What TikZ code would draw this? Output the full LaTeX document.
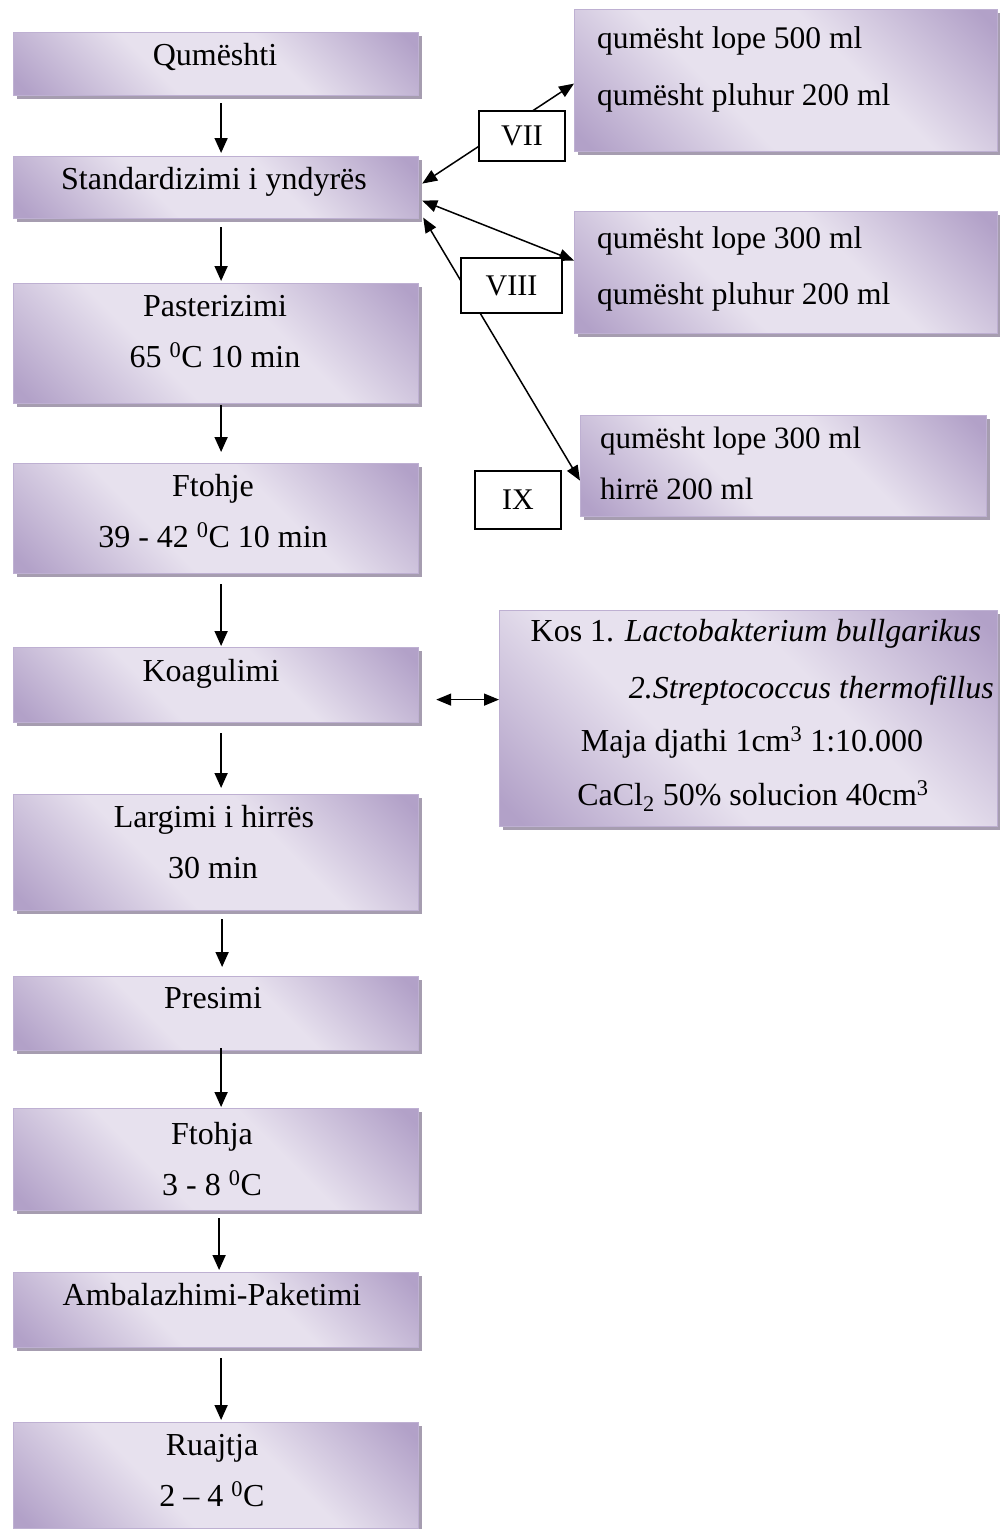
\documentclass[tikz,border=0pt]{standalone}
\usepackage{fontspec}
\setmainfont{Liberation Serif}
\usetikzlibrary{arrows.meta,calc,shadows}

\definecolor{boxdark}{HTML}{B2A1C8}
\definecolor{boxlight}{HTML}{E7E1EE}
\definecolor{boxline}{HTML}{BEB0D2}
\definecolor{shadowc}{HTML}{A69DB0}

\pgfdeclareverticalshading{boxshade}{100bp}{color(0bp)=(boxdark); color(17bp)=(boxdark); color(40bp)=(boxlight); color(60bp)=(boxlight); color(83bp)=(boxdark); color(100bp)=(boxdark)}

\tikzset{
  pbox/.style={draw=boxline, line width=1.2pt, shading=boxshade, shading angle=-45,
    drop shadow={shadow xshift=3pt, shadow yshift=-3pt, fill=shadowc, opacity=1},
    inner sep=0pt, anchor=north west},
  ltxt/.style={font=\fontsize{32}{38}\selectfont, inner sep=0pt, text height=22pt, text depth=6pt},
  ktxt/.style={font=\fontsize{32}{38}\selectfont, inner sep=0pt, text height=22pt, text depth=6pt},
  rtxt/.style={font=\fontsize{31.5}{38}\selectfont, inner sep=0pt, text height=22pt, text depth=6pt, anchor=west},
  lbl/.style={draw=black, line width=1.5pt, fill=white, inner sep=0pt, font=\fontsize{30}{36}\selectfont},
  arr/.style={draw=black, line width=1.7pt, -{Triangle[length=15pt,width=13pt]}},
  darr/.style={draw=black, line width=1.5pt, {Triangle[length=15pt,width=12pt]}-{Triangle[length=15pt,width=12pt]}}
}

\begin{document}
\begin{tikzpicture}[x=1pt,y=-1pt]
\useasboundingbox (0,0) rectangle (999,1529);

% left column boxes
\node[pbox, minimum width=405, minimum height=63]  (qum)    at (13,32)   {};
\node[pbox, minimum width=405, minimum height=62]  (std)    at (13,156)  {};
\node[pbox, minimum width=405, minimum height=120] (past)   at (13,283)  {};
\node[pbox, minimum width=405, minimum height=110] (fto)    at (13,463)  {};
\node[pbox, minimum width=405, minimum height=75]  (koag)   at (13,647)  {};
\node[pbox, minimum width=405, minimum height=116] (larg)   at (13,794)  {};
\node[pbox, minimum width=405, minimum height=74]  (pres)   at (13,976)  {};
\node[pbox, minimum width=405, minimum height=102] (ftoa)   at (13,1108) {};
\node[pbox, minimum width=405, minimum height=75]  (amb)    at (13,1272) {};
\node[pbox, minimum width=405, minimum height=106] (ruaj)   at (13,1422) {};

\node[ltxt] at (215,57)  {Qumështi};
\node[ltxt] at (214,181) {Standardizimi i yndyrës};
\node[ltxt] at (215,308) {Pasterizimi};
\node[ltxt] at (215,359) {65 \textsuperscript{0}C 10 min};
\node[ltxt] at (213,488) {Ftohje};
\node[ltxt] at (213,539) {39 - 42 \textsuperscript{0}C 10 min};
\node[ltxt] at (211,673) {Koagulimi};
\node[ltxt] at (214,819) {Largimi i hirrës};
\node[ltxt] at (213,870) {30 min};
\node[ltxt] at (213,1000) {Presimi};
\node[ltxt] at (212,1136) {Ftohja};
\node[ltxt] at (212,1187) {3 - 8 \textsuperscript{0}C};
\node[ltxt] at (212,1297) {Ambalazhimi-Paketimi};
\node[ltxt] at (212,1447) {Ruajtja};
\node[ltxt] at (212,1498) {2 – 4 \textsuperscript{0}C};

% right boxes
\node[pbox, minimum width=423, minimum height=142] (b7)  at (574,9)   {};
\node[pbox, minimum width=423, minimum height=122] (b8)  at (574,211) {};
\node[pbox, minimum width=406, minimum height=101] (b9)  at (580,415) {};
\node[pbox, minimum width=498, minimum height=216] (kos) at (499,610) {};

\node[rtxt] at (597,40)  {qumësht lope 500 ml};
\node[rtxt] at (597,97)  {qumësht pluhur 200 ml};
\node[rtxt] at (597,240) {qumësht lope 300 ml};
\node[rtxt] at (597,296) {qumësht pluhur 200 ml};
\node[rtxt, font=\fontsize{31}{36}\selectfont] at (600,440) {qumësht lope 300 ml};
\node[rtxt, font=\fontsize{31}{36}\selectfont] at (600,491) {hirrë 200 ml};

\node[ktxt] at (756,633) {Kos 1. \textit{Lactobakterium bullgarikus}};
\node[ktxt, anchor=east] at (994,690) {\textit{2.Streptococcus thermofillus}};
\node[ktxt] at (752,743) {Maja djathi 1cm\textsuperscript{3} 1:10.000};
\node[ktxt] at (753,797) {CaCl\textsubscript{2} 50\% solucion 40cm\textsuperscript{3}};

% vertical flow arrows
\draw[arr] ($(qum.south)+(5,7)$)  -- ($(std.north)+(5,-3)$);
\draw[arr] ($(std.south)+(5,8)$)  -- ($(past.north)+(5,-2)$);
\draw[arr] ($(past.south)+(5,1)$) -- ($(fto.north)+(5,-11)$);
\draw[arr] ($(fto.south)+(5,10)$) -- ($(koag.north)+(5,-1)$);
\draw[arr] ($(koag.south)+(5,10)$) -- ($(larg.north)+(5,-6)$);
\draw[arr] ($(larg.south)+(6,8)$) -- ($(pres.north)+(6,-9)$);
\draw[arr] ($(pres.south)+(5,-3)$) -- ($(ftoa.north)+(5,-1)$);
\draw[arr] ($(ftoa.south)+(3,7)$) -- ($(amb.north)+(3,-2)$);
\draw[arr] ($(amb.south)+(5,10)$) -- ($(ruaj.north)+(5,-2)$);

% diagonal connectors
\draw[darr] ($(std.east)+(3,-4)$) -- ($(b7.west)+(0,3)$);
\draw[darr] ($(std.east)+(3,13)$) -- ($(b8.west)+(0,-12)$);
\draw[darr] ($(std.east)+(4,30)$) -- ($(b9.west)+(0,14.5)$);
\draw[darr] ($(koag.east)+(17,14.5)$) -- ($(kos.west)+(0,-19)$);

% labels
\node[lbl, minimum width=86,  minimum height=50] (l7) at (522,136)   {VII};
\node[lbl, minimum width=101, minimum height=55] (l8) at (511.5,285.5) {VIII};
\node[lbl, minimum width=86,  minimum height=58] (l9) at (518,500)   {IX};
\end{tikzpicture}
\end{document}
